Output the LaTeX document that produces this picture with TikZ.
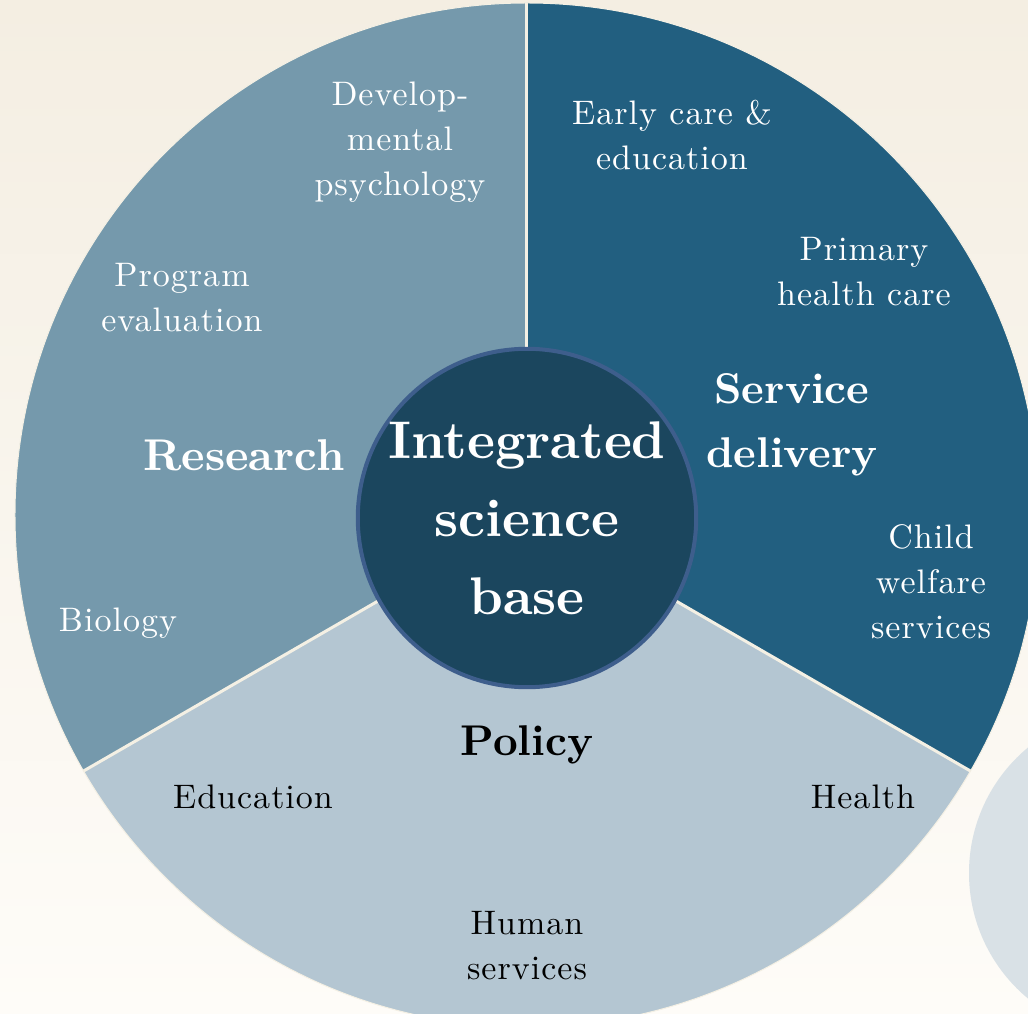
\documentclass[tikz,border=0pt]{standalone}
\usepackage{fontspec}
\usepackage{tikz}
\usetikzlibrary{positioning,backgrounds,calc}
\newfontfamily\lblfont{lmroman10-regular.otf}[LetterSpace=3]
\newfontfamily\headfont{lmroman10-bold.otf}
\definecolor{rescol}{HTML}{7599AC}
\definecolor{servcol}{HTML}{225F80}
\definecolor{polcol}{HTML}{B4C6D2}
\definecolor{corecol}{HTML}{1B465E}
\definecolor{ringcol}{HTML}{3E5E8C}
\definecolor{creamtop}{HTML}{F4EEE2}
\definecolor{creambot}{HTML}{FEFCF8}
\definecolor{sepcol}{HTML}{F4F0E4}
\definecolor{ghostcol}{HTML}{D9E1E6}
\tikzstyle{lbox}=[align=center, inner sep=0pt, font=\lblfont\fontsize{34}{45}\selectfont]
\tikzstyle{wlbox}=[lbox, text=white]
\tikzstyle{blbox}=[lbox, text=black]
\tikzstyle{hbox}=[align=center, inner sep=0pt, font=\headfont\fontsize{43}{64}\selectfont]
\tikzstyle{cbox}=[circle, draw=ringcol, fill=corecol, line width=4pt, minimum size=336pt,
                  inner sep=0pt, align=center, text=white,
                  font=\headfont\fontsize{53}{78}\selectfont]
\tikzstyle{sline}=[-, draw=sepcol, line width=3pt]

\begin{document}
\begin{tikzpicture}[x=1pt,y=1pt]
\useasboundingbox (-527,-499) rectangle (501,515);
\clip (-527,-499) rectangle (501,515);
\shade[top color=creamtop, bottom color=creambot] (-527,-499) rectangle (501,515);
\fill[ghostcol] (605,-358) circle (163);

\coordinate (HUB) at (0,0);
\coordinate (RIMN) at (90:512);
\coordinate (RIMSW) at (210:512);
\coordinate (RIMSE) at (330:512);

% the three sectors
\fill[rescol]  (HUB) -- (RIMN)  arc[start angle=90,  end angle=210, radius=512] -- cycle;
\fill[polcol]  (HUB) -- (RIMSW) arc[start angle=210, end angle=330, radius=512] -- cycle;
\fill[servcol] (HUB) -- (RIMSE) arc[start angle=-30, end angle=90,  radius=512] -- cycle;
\draw[sepcol, line width=1pt] (HUB) circle (512);
\draw[sline] (HUB) -- (RIMN);
\draw[sline] (HUB) -- (RIMSW);
\draw[sline] (HUB) -- (RIMSE);

\node (CORE) [cbox] at (0,-3) {Integrated\\science\\base};

% research
\node (RES) [hbox, text=white, font=\headfont\fontsize{44.5}{64}\selectfont] at (-283,60) {Research};
\node (DEVPSY) [wlbox] at (-127,373) {Develop-\\mental\\psychology};
\node (PROGEV) [wlbox] at (-345,217) {Program\\evaluation};
\node (BIO) [wlbox] at (-409,-108) {Biology};

% service delivery
\node (SERV) [hbox, text=white] at (265,90) {Service\\delivery};
\node (EARLY) [wlbox] at (145,380) {Early care \&\\education};
\node (PRIM) [wlbox] at (337,243) {Primary\\health care};
\node (CHILD) [wlbox] at (404,-67) {Child\\welfare\\services};

% policy
\node (POL) [hbox, text=black] at (0,-230) {Policy};
\node (EDU) [blbox] at (-274,-282) {Education};
\node (HEALTH) [blbox] at (336,-282) {Health};
\node (HUMSERV) [blbox] at (0,-431) {Human\\services};

\end{tikzpicture}
\end{document}
